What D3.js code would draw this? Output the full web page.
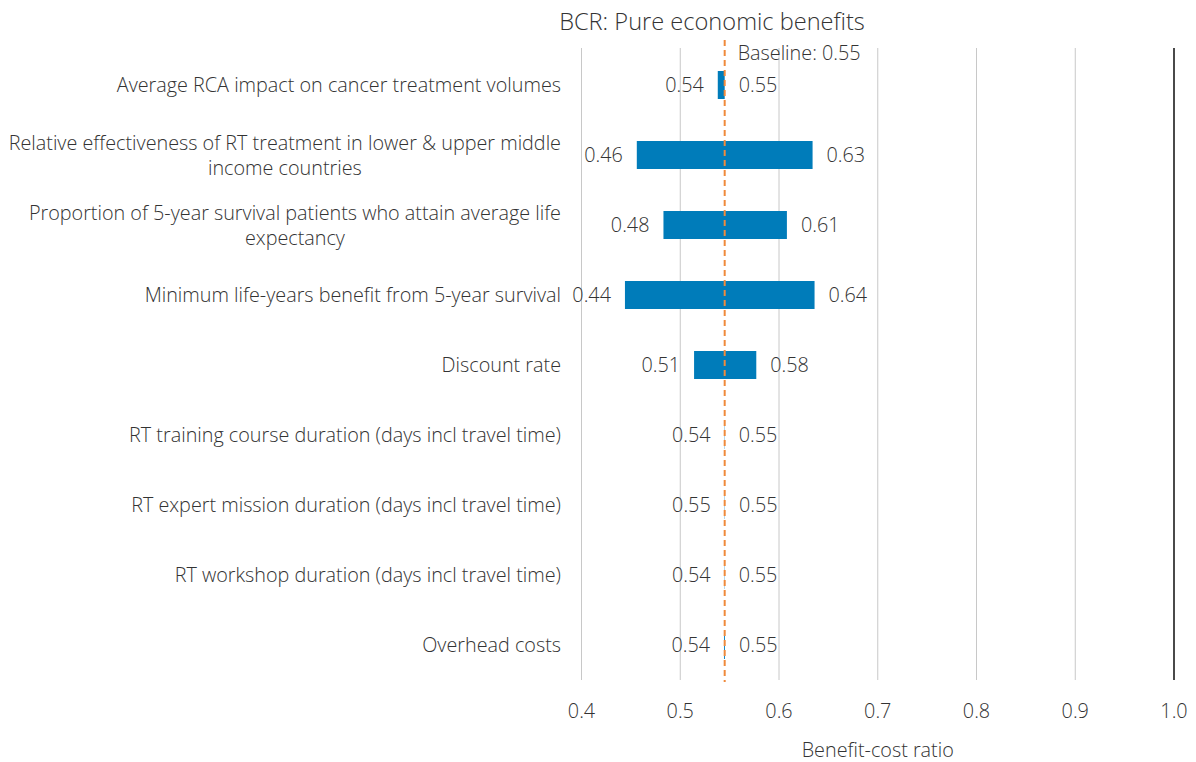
<!DOCTYPE html>
<html>
<head>
<meta charset="utf-8">
<script src="https://cdn.jsdelivr.net/npm/d3@7/dist/d3.min.js"></script>
<style>
  html, body { margin: 0; padding: 0; background: #fff; }
  svg { display: block; font-family: "Open Sans", "Noto Sans", sans-serif; font-weight: 300; }
</style>
</head>
<body>
<svg id="chart" width="1196" height="762"></svg>
<script>
// Sensitivity drivers (top to bottom); "\n" splits a label over two lines
const categories = [
  "Average RCA impact on cancer treatment volumes",
  "Relative effectiveness of RT treatment in lower & upper middle\nincome countries",
  "Proportion of 5-year survival patients who attain average life\nexpectancy",
  "Minimum life-years benefit from 5-year survival",
  "Discount rate",
  "RT training course duration (days incl travel time)",
  "RT expert mission duration (days incl travel time)",
  "RT workshop duration (days incl travel time)",
  "Overhead costs"
];
// Benefit-cost ratio at the low and high end of each driver's range
const lowValues  = [0.538, 0.456, 0.483, 0.444, 0.514, 0.5448, 0.5450, 0.5448, 0.5443];
const highValues = [0.545, 0.634, 0.608, 0.636, 0.577, 0.5451, 0.5453, 0.5451, 0.5452];
const baseline = 0.545;
const xTicks = [0.4, 0.5, 0.6, 0.7, 0.8, 0.9, 1.0];

const svg = d3.select("#chart");
const margin = { left: 581.5, right: 22, top: 50, bottom: 82 };
const W = 1196, H = 762;
const textColor = "#333";
const barColor = "#007cba";
const fs = 19.8;

const x = d3.scaleLinear().domain([0.4, 1.0]).range([margin.left, W - margin.right]);
const y = d3.scaleBand().domain(categories).range([margin.top, H - margin.bottom]).paddingInner(0.6).paddingOuter(0.3);
const band = d3.scaleBand().domain(categories).range([margin.top, H - margin.bottom]);
const fmt = d3.format(".2f");

// Title
svg.append("text")
  .attr("x", 712).attr("y", 30)
  .attr("text-anchor", "middle")
  .attr("font-size", 23.6)
  .attr("fill", "#333")
  .text("BCR: Pure economic benefits");

// Vertical gridlines
svg.append("g").selectAll("line")
  .data(xTicks)
  .join("line")
  .attr("x1", d => x(d)).attr("x2", d => x(d))
  .attr("y1", margin.top - 2).attr("y2", H - margin.bottom)
  .attr("stroke", d => d === 1.0 ? "#4a4a4a" : "#c8c8c8")
  .attr("stroke-width", d => d === 1.0 ? 2 : 1);

// Tick labels
svg.append("g").selectAll("text")
  .data(xTicks)
  .join("text")
  .attr("x", d => x(d)).attr("y", 718)
  .attr("text-anchor", "middle")
  .attr("font-size", fs)
  .attr("fill", textColor)
  .text(d3.format(".1f"));

// Axis title
svg.append("text")
  .attr("x", x(0.7)).attr("y", 757)
  .attr("text-anchor", "middle")
  .attr("font-size", fs)
  .attr("fill", textColor)
  .text("Benefit-cost ratio");

const rows = categories.map((c, i) => ({ cat: c, lo: lowValues[i], hi: highValues[i] }));

// Bars from low to high
svg.append("g").selectAll("rect")
  .data(rows)
  .join("rect")
  .attr("x", d => x(d.lo))
  .attr("width", d => x(d.hi) - x(d.lo))
  .attr("y", d => y(d.cat))
  .attr("height", y.bandwidth())
  .attr("fill", barColor);

// Baseline reference
svg.append("line")
  .attr("x1", x(baseline)).attr("x2", x(baseline))
  .attr("y1", 40).attr("y2", H - margin.bottom + 2)
  .attr("stroke", "#f08a3c")
  .attr("stroke-width", 2)
  .attr("stroke-dasharray", "6,4");

svg.append("text")
  .attr("x", x(baseline) + 13).attr("y", 60)
  .attr("font-size", fs)
  .attr("fill", textColor)
  .text("Baseline: " + fmt(baseline));

// Value labels
const cy = d => band(d.cat) + band.bandwidth() / 2 + 7;
svg.append("g").selectAll("text")
  .data(rows)
  .join("text")
  .attr("x", d => x(d.lo) - 14).attr("y", cy)
  .attr("text-anchor", "end")
  .attr("font-size", fs)
  .attr("fill", textColor)
  .text(d => fmt(d.lo));

svg.append("g").selectAll("text")
  .data(rows)
  .join("text")
  .attr("x", d => x(d.hi) + 14).attr("y", cy)
  .attr("text-anchor", "start")
  .attr("font-size", fs)
  .attr("fill", textColor)
  .text(d => fmt(d.hi));

// Category labels: right-aligned block, lines centred within it
const labelRight = 561;
const catG = svg.append("g");
rows.forEach(d => {
  const lines = d.cat.split("\n");
  const mid = band(d.cat) + band.bandwidth() / 2;
  const lh = 25;
  const t = catG.append("text")
    .attr("font-size", fs)
    .attr("fill", textColor);
  const spans = lines.map((ln, k) => t.append("tspan")
    .attr("y", mid + 7 + (k - (lines.length - 1) / 2) * lh)
    .text(ln));
  const widths = spans.map(s => s.node().getComputedTextLength());
  const maxW = d3.max(widths);
  const centre = labelRight - maxW / 2;
  spans.forEach(s => s.attr("x", centre).attr("text-anchor", "middle"));
});
</script>
</body>
</html>
